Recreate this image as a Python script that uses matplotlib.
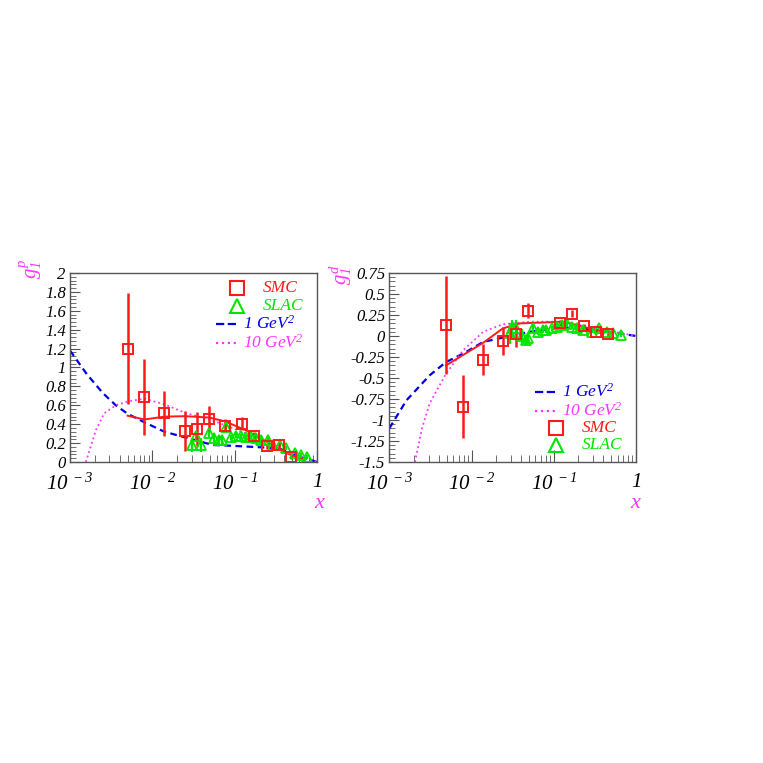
#!/usr/bin/env python3

import numpy as np
import matplotlib.pyplot as plt
from matplotlib.ticker import LogLocator, MultipleLocator, FixedLocator, NullFormatter

plt.rcParams['font.family'] = 'Liberation Serif'
plt.rcParams['font.style'] = 'italic'
plt.rcParams['mathtext.fontset'] = 'custom'
plt.rcParams['mathtext.rm'] = 'Liberation Serif:italic'
plt.rcParams['mathtext.it'] = 'Liberation Serif:italic'

# --- proton g1: SMC data
p_smc_x = [0.005, 0.008, 0.014, 0.025, 0.035, 0.049, 0.077, 0.121, 0.173, 0.245, 0.345, 0.48]
p_smc_y = [1.20, 0.685, 0.515, 0.33, 0.35, 0.46, 0.385, 0.405, 0.27, 0.17, 0.18, 0.055]
p_smc_e = [0.59, 0.40, 0.24, 0.21, 0.18, 0.13, 0.07, 0.07, 0.05, 0.03, 0.03, 0.02]

# --- proton g1: SLAC data
p_slac_x = [0.030, 0.034, 0.039, 0.049, 0.056, 0.064, 0.070, 0.078, 0.090, 0.103, 0.119,
            0.137, 0.157, 0.180, 0.210, 0.250, 0.290, 0.350, 0.420, 0.530, 0.630, 0.750]
p_slac_y = [0.18, 0.27, 0.18, 0.31, 0.25, 0.23, 0.23, 0.37, 0.26, 0.28, 0.27,
            0.26, 0.26, 0.25, 0.23, 0.23, 0.18, 0.18, 0.15, 0.10, 0.07, 0.05]
p_slac_e = [0.07, 0.06, 0.07, 0.05, 0.04, 0.04, 0.04, 0.04, 0.03, 0.03, 0.03,
            0.03, 0.03, 0.03, 0.03, 0.03, 0.02, 0.02, 0.02, 0.02, 0.02, 0.02]

# --- proton curves
p_cx = [0.001, 0.0016, 0.0025, 0.0036, 0.005, 0.008, 0.014, 0.025, 0.054, 0.1, 0.165, 0.34, 0.6, 1.0]
p_q1 = [1.18, 0.93, 0.73, 0.60, 0.51, 0.42, 0.32, 0.26, 0.18, 0.17, 0.16, 0.145, 0.056, 0.0]
p_qx = [0.00156, 0.00207, 0.0026, 0.0036, 0.005, 0.008, 0.014, 0.025, 0.049, 0.076,
        0.137, 0.25, 0.4, 0.7, 1.0]
p_q10 = [0.0, 0.34, 0.515, 0.60, 0.64, 0.67, 0.61, 0.52, 0.45, 0.39, 0.30, 0.22, 0.12, 0.04, 0.0]
p_fx = [0.005, 0.008, 0.014, 0.025, 0.049, 0.076, 0.137, 0.25, 0.4, 0.67]
p_fit = [0.49, 0.45, 0.48, 0.485, 0.47, 0.43, 0.335, 0.21, 0.10, 0.03]

# --- deuteron g1: SMC data
d_smc_x = [0.0049, 0.0078, 0.0139, 0.0243, 0.035, 0.049, 0.119, 0.168, 0.234, 0.33, 0.46]
d_smc_y = [0.13, -0.84, -0.28, -0.06, 0.02, 0.30, 0.155, 0.265, 0.115, 0.05, 0.02]
d_smc_e = [0.58, 0.38, 0.19, 0.17, 0.15, 0.09, 0.04, 0.04, 0.03, 0.03, 0.02]

# --- deuteron g1: SLAC data
d_slac_x = [0.029, 0.031, 0.035, 0.041, 0.046, 0.049, 0.056, 0.065, 0.075, 0.080, 0.094,
            0.110, 0.125, 0.143, 0.165, 0.190, 0.230, 0.290, 0.360, 0.440, 0.530, 0.660]
d_slac_y = [0.03, 0.09, 0.10, 0.0, -0.05, -0.02, 0.10, 0.05, 0.07, 0.07, 0.09,
            0.11, 0.13, 0.14, 0.11, 0.09, 0.07, 0.05, 0.09, 0.05, 0.03, 0.01]
d_slac_e = [0.12, 0.10, 0.09, 0.08, 0.06, 0.06, 0.05, 0.04, 0.04, 0.04, 0.03,
            0.03, 0.03, 0.03, 0.03, 0.03, 0.02, 0.02, 0.02, 0.02, 0.02, 0.02]

# --- deuteron curves
d_cx = [0.001, 0.00162, 0.0031, 0.0049, 0.0079, 0.0139, 0.024, 0.051, 0.13, 0.33, 1.0]
d_q1 = [-1.10, -0.765, -0.468, -0.31, -0.21, -0.07, -0.02, 0.05, 0.10, 0.075, 0.0]
d_qx = [0.00205, 0.0025, 0.0031, 0.0049, 0.0079, 0.0139, 0.024, 0.051, 0.13, 0.33, 1.0]
d_q10 = [-1.5, -1.1, -0.80, -0.45, -0.17, 0.05, 0.14, 0.17, 0.17, 0.09, 0.0]
d_fx = [0.0049, 0.0139, 0.024, 0.039, 0.13, 0.33, 0.5]
d_fit = [-0.35, -0.08, 0.09, 0.15, 0.17, 0.07, 0.035]

xticks = [1e-3, 1e-2, 1e-1, 1]
xticklabels = ['$10^{\\ -3}$', '$10^{\\ -2}$', '$10^{\\ -1}$', '$1$']

RED, GREEN, BLUE, MAG = '#ff1a1a', '#00e600', '#0000e6', '#ff33ff'

fig = plt.figure(figsize=(7.63, 7.63), dpi=100)
axl = fig.add_axes([0.0917, 0.3945, 0.3241, 0.2477])
axr = fig.add_axes([0.5102, 0.3945, 0.3233, 0.2477])


def draw(ax, sx, sy, se, lx, ly, le, cx, q1, qx, q10, fx, fit):
    ax.plot(cx, q1, '--', color=BLUE, lw=1.6, dashes=(3, 2))
    ax.plot(qx, q10, ':', color=MAG, lw=1.3)
    ax.plot(fx, fit, '-', color=RED, lw=1.4)
    ax.errorbar(lx, ly, yerr=le, fmt='^', ms=6.5, mfc='none', mec=GREEN, mew=1.3,
                ecolor=GREEN, elinewidth=1.6, capsize=0)
    ax.errorbar(sx, sy, yerr=se, fmt='s', ms=6.5, mfc='none', mec=RED, mew=1.4,
                ecolor=RED, elinewidth=1.8, capsize=0)
    ax.set_xscale('log')
    ax.set_xlim(1e-3, 1)
    ax.xaxis.set_major_locator(FixedLocator(xticks))
    ax.set_xticklabels(xticklabels, fontsize=15)
    ax.xaxis.set_minor_locator(LogLocator(base=10, subs=np.arange(2, 10)))
    ax.xaxis.set_minor_formatter(NullFormatter())
    ax.tick_params(axis='both', which='both', direction='in', top=False, right=False,
                   colors='#555555', labelcolor='black')
    ax.tick_params(axis='x', which='major', length=9, pad=8)
    ax.tick_params(axis='x', which='minor', length=5)
    ax.tick_params(axis='y', which='major', length=7, labelsize=12, pad=3)
    ax.tick_params(axis='y', which='minor', length=4)
    for s in ax.spines.values():
        s.set_color('#555555')
        s.set_linewidth(1.0)


def legend(ax, entries, ys):
    for (kind, color, label), y in zip(entries, ys):
        if kind in ('s', '^'):
            ax.plot([0.676], [y], kind, ms=10, mfc='none', mec=color, mew=1.5,
                    transform=ax.transAxes, clip_on=False)
            ax.text(0.78, y, label, color=color, fontsize=12.5, va='center',
                    transform=ax.transAxes)
        else:
            ax.plot([0.59, 0.675], [y, y], kind, color=color, lw=1.6,
                    transform=ax.transAxes, clip_on=False)
            ax.text(0.70, y, label, color=color, fontsize=12.5, va='center',
                    transform=ax.transAxes)


# --- proton panel
draw(axl, p_smc_x, p_smc_y, p_smc_e, p_slac_x, p_slac_y, p_slac_e,
     p_cx, p_q1, p_qx, p_q10, p_fx, p_fit)
axl.set_ylim(0, 2)
axl.yaxis.set_major_locator(MultipleLocator(0.2))
axl.yaxis.set_minor_locator(MultipleLocator(0.04))
axl.set_yticklabels([('%g' % v) for v in axl.get_yticks()])
legend(axl, [('s', RED, 'SMC'), ('^', GREEN, 'SLAC'),
             ('--', BLUE, '1 GeV$^2$'), (':', MAG, '10 GeV$^2$')],
       [0.92, 0.825, 0.73, 0.63])

# --- deuteron panel
draw(axr, d_smc_x, d_smc_y, d_smc_e, d_slac_x, d_slac_y, d_slac_e,
     d_cx, d_q1, d_qx, d_q10, d_fx, d_fit)
axr.set_ylim(-1.5, 0.75)
axr.yaxis.set_major_locator(MultipleLocator(0.25))
axr.yaxis.set_minor_locator(MultipleLocator(0.05))
axr.set_yticklabels([('%g' % v) for v in axr.get_yticks()])
legend(axr, [('--', BLUE, '1 GeV$^2$'), (':', MAG, '10 GeV$^2$'),
             ('s', RED, 'SMC'), ('^', GREEN, 'SLAC')],
       [0.37, 0.27, 0.18, 0.09])

# axis titles
fig.text(0.040, 0.648, '$g_1^p$', color=MAG, rotation=90, fontsize=15, ha='center', va='center')
fig.text(0.446, 0.640, '$g_1^d$', color=MAG, rotation=90, fontsize=15, ha='center', va='center')
fig.text(0.418, 0.340, 'x', color=MAG, fontsize=16, ha='center', va='center')
fig.text(0.832, 0.340, 'x', color=MAG, fontsize=16, ha='center', va='center')

fig.savefig('out.png', dpi=100)
